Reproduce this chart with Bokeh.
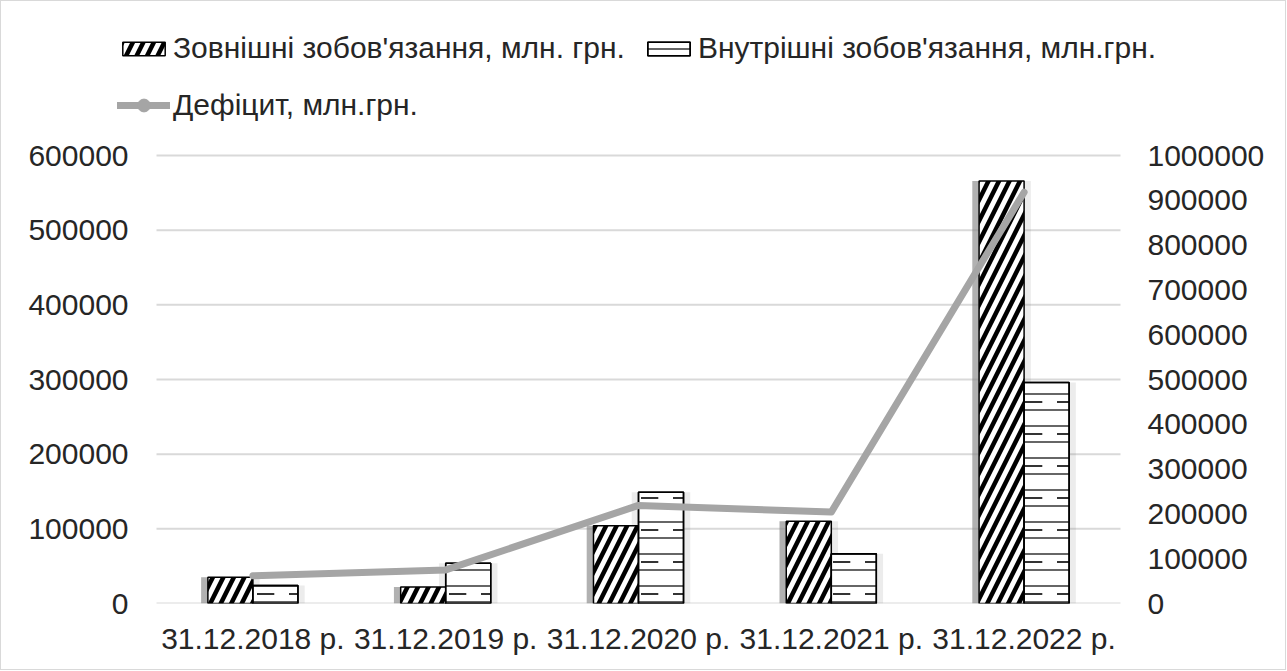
from bokeh.plotting import figure
from bokeh.models import (FactorRange, Range1d, LinearAxis, Legend, LegendItem,
                          ColumnDataSource, FixedTicker, NumeralTickFormatter)
from bokeh.transform import dodge
from bokeh.embed import file_html
from bokeh.resources import INLINE

categories = ["31.12.2018 р.", "31.12.2019 р.", "31.12.2020 р.", "31.12.2021 р.", "31.12.2022 р."]
external = [35000, 22000, 104000, 110000, 566000]
internal = [24000, 54000, 149000, 66500, 296000]
deficit = [62000, 75000, 219000, 204000, 918000]
left_ticks = [0, 100000, 200000, 300000, 400000, 500000, 600000]
right_ticks = [0, 100000, 200000, 300000, 400000, 500000, 600000, 700000, 800000, 900000, 1000000]

label_ext = "Зовнішні зобов'язання, млн. грн."
label_int = "Внутрішні зобов'язання, млн.грн."
label_def = "Дефіцит, млн.грн."

src = ColumnDataSource(dict(cat=categories, ext=external, int=internal, dfc=deficit))
grid_src = ColumnDataSource(dict(y=left_ticks,
                                 first=[categories[0]] * len(left_ticks),
                                 last=[categories[-1]] * len(left_ticks)))

FONT = "Liberation Sans"
TXT = "#262626"

# frame spans the legend area too (legends are clipped to the frame)
FRAME_H = 591          # 448 px for the 0..600000 part, the rest is legend room
LEFT_MAX = 600000
RIGHT_MAX = 1000000
p = figure(x_range=FactorRange(*categories, range_padding=0.3631, range_padding_units="absolute"),
           y_range=Range1d(0, LEFT_MAX * FRAME_H / 448),
           frame_width=1104, frame_height=FRAME_H,
           min_border_left=85, min_border_right=95, min_border_top=11, min_border_bottom=66,
           output_backend="svg", toolbar_location=None)
p.styles = {"border": "1px solid #D9D9D9"}
p.extra_y_ranges = {"right": Range1d(0, RIGHT_MAX * FRAME_H / 448)}
p.outline_line_color = None
p.background_fill_color = "white"
p.border_fill_color = "white"
p.xgrid.grid_line_color = None
p.ygrid.grid_line_color = None

p.xaxis.axis_line_color = None
p.xaxis.major_tick_line_color = None
p.xaxis.minor_tick_line_color = None
p.xaxis.major_label_text_font = FONT
p.xaxis.major_label_text_font_size = "30px"
p.xaxis.major_label_text_color = TXT
p.xaxis.major_label_standoff = 12

p.yaxis.ticker = FixedTicker(ticks=left_ticks)
p.yaxis.formatter = NumeralTickFormatter(format="0")
p.yaxis.axis_line_color = None
p.yaxis.major_tick_line_color = None
p.yaxis.minor_tick_line_color = None
p.yaxis.major_label_text_font = FONT
p.yaxis.major_label_text_font_size = "30px"
p.yaxis.major_label_text_color = TXT
p.yaxis.major_label_standoff = -48

ra = LinearAxis(y_range_name="right", ticker=FixedTicker(ticks=right_ticks),
                formatter=NumeralTickFormatter(format="0"))
ra.axis_line_color = None
ra.major_tick_line_color = None
ra.minor_tick_line_color = None
ra.major_label_text_font = FONT
ra.major_label_text_font_size = "30px"
ra.major_label_text_color = TXT
ra.major_label_standoff = -49
p.add_layout(ra, "right")

# horizontal gridlines limited to the category area
p.segment(x0=dodge("first", -0.5, range=p.x_range), x1=dodge("last", 0.5, range=p.x_range),
          y0="y", y1="y", source=grid_src, line_color="#D9D9D9", line_width=2)

BW = 0.2335
OFF = BW / 2

# soft shadows
p.vbar(x=dodge("cat", -OFF, range=p.x_range), top="ext", width=BW + 0.07, source=src,
       fill_color="#808080", fill_alpha=0.15, line_color=None)
p.vbar(x=dodge("cat", OFF, range=p.x_range), top="int", width=BW + 0.07, source=src,
       fill_color="#808080", fill_alpha=0.15, line_color=None)
p.vbar(x=dodge("cat", -OFF - 0.035, range=p.x_range), top="ext", width=BW, source=src,
       fill_color="#8a8a8a", fill_alpha=0.6, line_color=None)

ext_r = p.vbar(x=dodge("cat", -OFF, range=p.x_range), top="ext", width=BW, source=src,
               fill_color="white", line_color="black", line_width=1.5,
               hatch_pattern="right_diagonal_line", hatch_color="black",
               hatch_weight=4.5, hatch_scale=21)
int_r = p.vbar(x=dodge("cat", OFF, range=p.x_range), top="int", width=BW, source=src,
               fill_color="white", line_color="black", line_width=1.5,
               hatch_pattern="horizontal_line", hatch_color="black",
               hatch_weight=1.2, hatch_scale=16)
int_r2 = p.vbar(x=dodge("cat", OFF, range=p.x_range), top="int", width=BW, source=src,
                fill_color=None, line_color="black", line_width=1.5,
                hatch_pattern="horizontal_dash", hatch_color="black",
                hatch_weight=1.6, hatch_scale=32)

line_r = p.line(x="cat", y="dfc", y_range_name="right", source=src,
                line_color="#A5A5A5", line_width=7, line_join="round", line_cap="round")
dummy = p.scatter(x=[categories[0]], y=[float("nan")], y_range_name="right",
                  size=13, fill_color="#A5A5A5", line_color="#A5A5A5")

common = dict(orientation="horizontal", glyph_width=53, label_standoff=3, spacing=17,
              padding=0, margin=0, border_line_color=None, background_fill_alpha=0,
              label_text_font=FONT, label_text_font_size="30px", label_text_color=TXT,
              label_height=40)
legend_bars = Legend(items=[LegendItem(label=label_ext, renderers=[ext_r]),
                            LegendItem(label=label_int, renderers=[int_r, int_r2])],
                     location=(31, 535), glyph_height=17, **common)
legend_line = Legend(items=[LegendItem(label=label_def, renderers=[line_r, dummy])],
                     location=(31, 478), glyph_height=32, **common)
p.add_layout(legend_bars, "center")
p.add_layout(legend_line, "center")

open("out.html", "w").write(file_html(p, INLINE))
